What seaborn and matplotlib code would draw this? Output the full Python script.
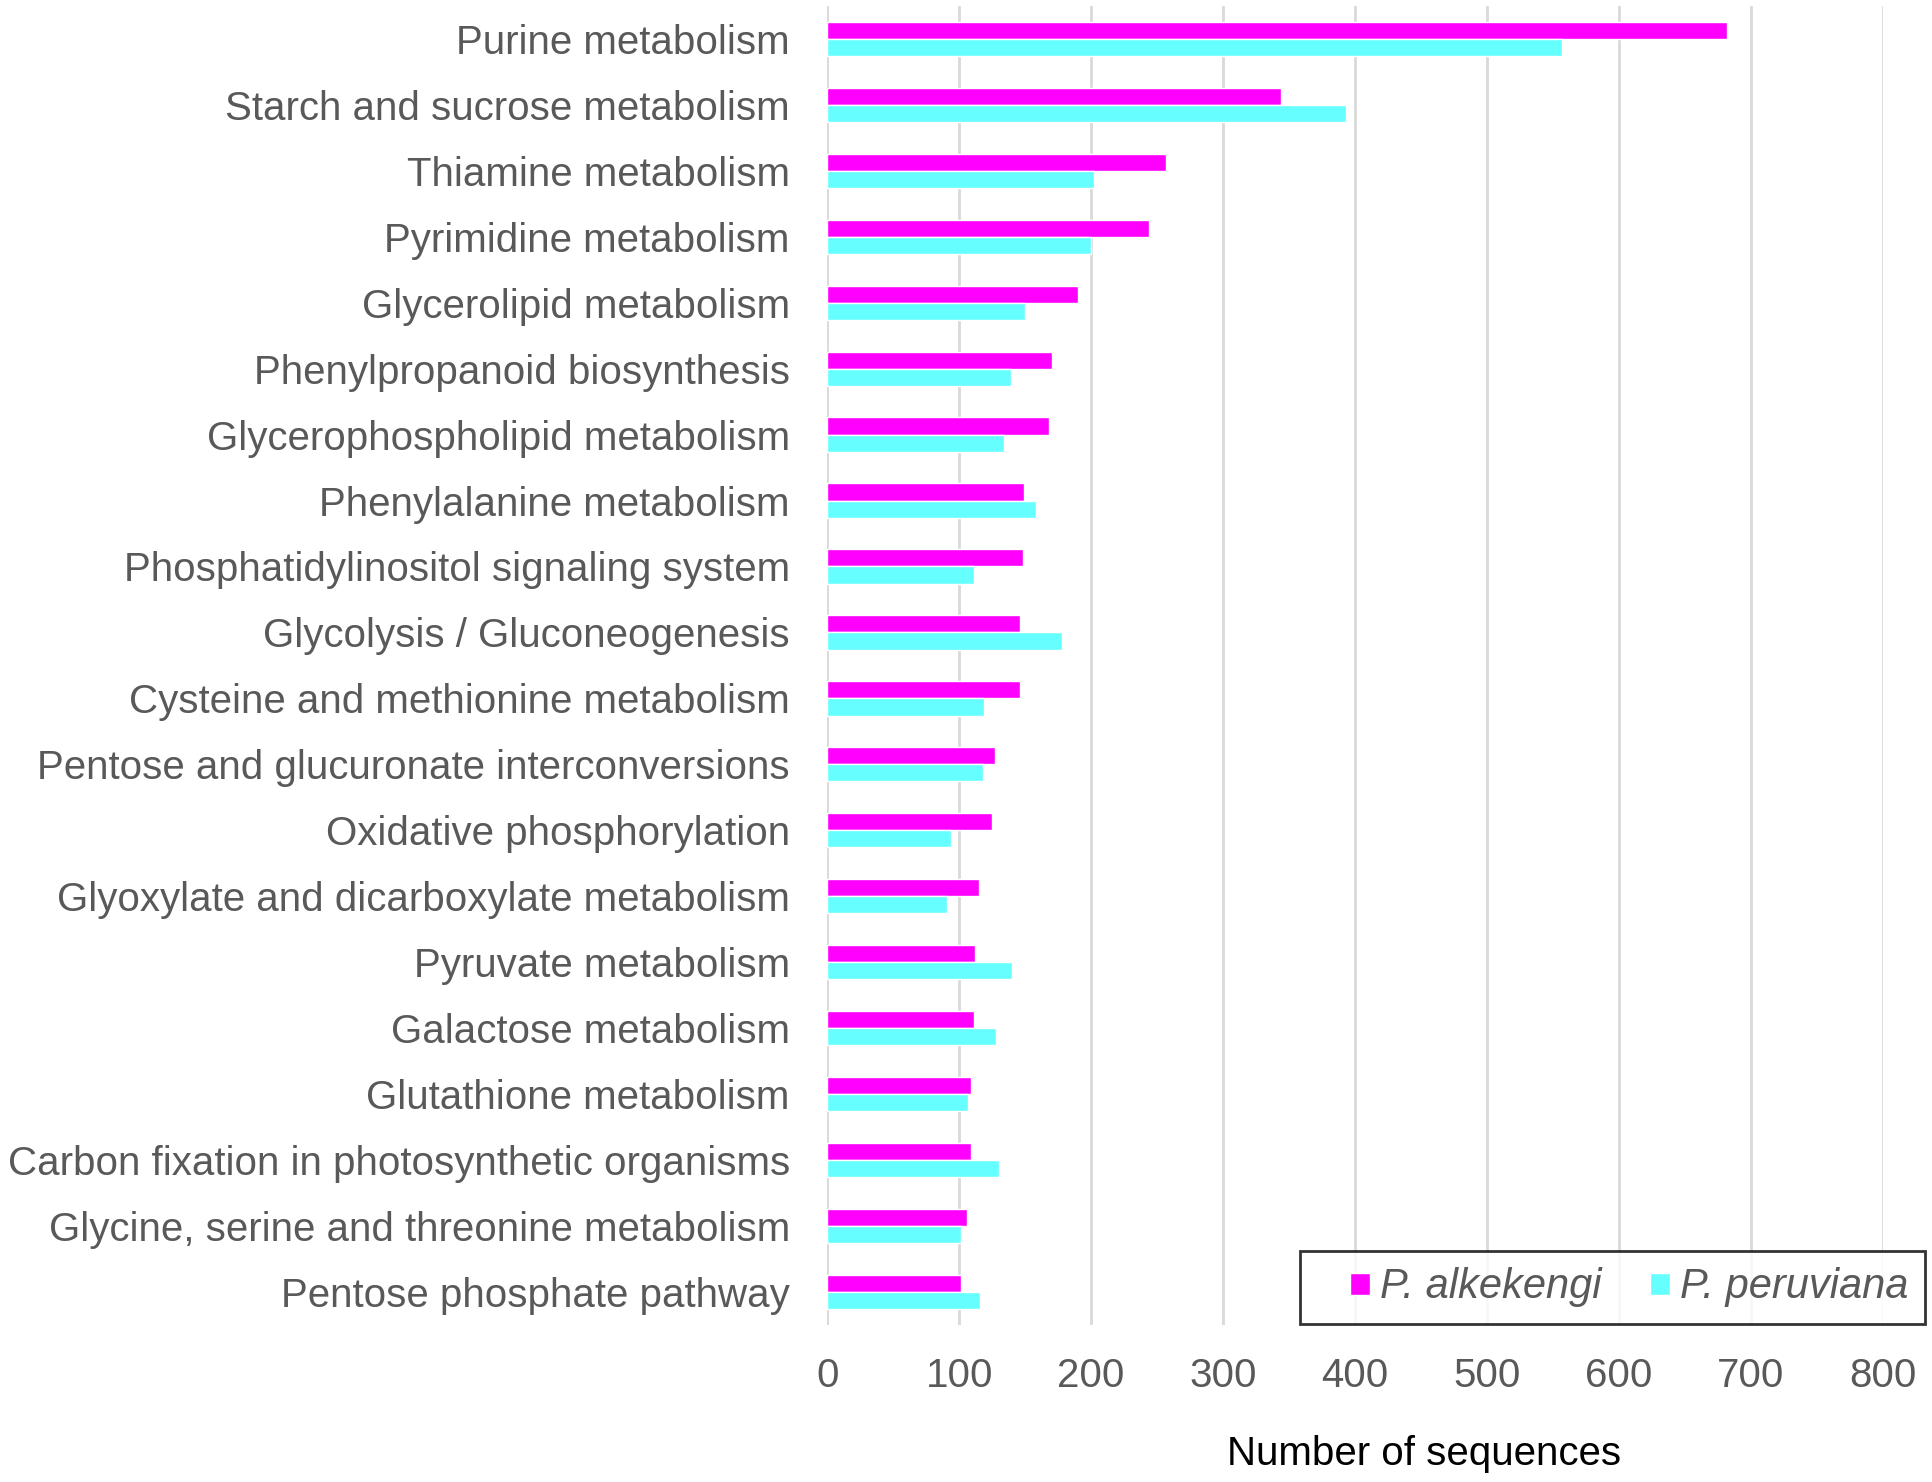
import pandas as pd
import matplotlib
matplotlib.use("Agg")
import matplotlib.pyplot as plt
import matplotlib.patches as mpatches
from matplotlib.legend_handler import HandlerPatch
import seaborn as sns

# KEGG pathways, top to bottom
pathways = [
    "Purine metabolism",
    "Starch and sucrose metabolism",
    "Thiamine metabolism",
    "Pyrimidine metabolism",
    "Glycerolipid metabolism",
    "Phenylpropanoid biosynthesis",
    "Glycerophospholipid metabolism",
    "Phenylalanine metabolism",
    "Phosphatidylinositol signaling system",
    "Glycolysis / Gluconeogenesis",
    "Cysteine and methionine metabolism",
    "Pentose and glucuronate interconversions",
    "Oxidative phosphorylation",
    "Glyoxylate and dicarboxylate metabolism",
    "Pyruvate metabolism",
    "Galactose metabolism",
    "Glutathione metabolism",
    "Carbon fixation in photosynthetic organisms",
    "Glycine, serine and threonine metabolism",
    "Pentose phosphate pathway",
]
alkekengi = [682, 344, 257, 244, 190, 170, 168, 149, 148, 146,
             146, 127, 125, 115, 112, 111, 109, 109, 106, 101]
peruviana = [557, 393, 202, 200, 150, 139, 134, 158, 111, 178,
             119, 118, 94, 91, 140, 128, 107, 130, 101, 116]
species = ["P. alkekengi", "P. peruviana"]

df = pd.DataFrame({
    "Pathway": pathways * 2,
    "Count": alkekengi + peruviana,
    "Species": [species[0]] * len(pathways) + [species[1]] * len(pathways),
})

sns.set_theme(style="white")
plt.rcParams["font.family"] = ["Liberation Sans", "DejaVu Sans"]

fig = plt.figure(figsize=(19.33, 14.82), dpi=100)
ax = fig.add_axes([0.428, 0.106, 0.546, 0.89])

sns.barplot(data=df, y="Pathway", x="Count", hue="Species",
            palette=["#FF00FF", "#66FFFF"], width=0.52, orient="h",
            saturation=1, ax=ax)

ax.set_xlim(0, 800)
ax.set_ylim(19.5, -0.5)
ax.set_xticks(range(0, 801, 100))
ax.xaxis.grid(True, color="#d9d9d9", linewidth=2)
ax.set_axisbelow(True)
for s in ax.spines.values():
    s.set_visible(False)
ax.tick_params(axis="y", length=0, pad=27, labelsize=29, labelcolor="#595959")
ax.tick_params(axis="x", length=0, pad=23, labelsize=29, labelcolor="#595959")
ax.set_ylabel("")
ax.set_xlabel("Number of sequences", fontsize=29, color="black", labelpad=29)
ax.xaxis.label.set_x(0.565)


# small square legend keys sitting at the right end of the handle box
def small_square(legend, orig_handle, xdescent, ydescent, width, height, fontsize):
    w = 0.47 * fontsize
    h = 0.52 * fontsize
    return mpatches.Rectangle((-xdescent + width - w, -ydescent + (height - h) / 2), w, h)


handles, labels = ax.get_legend_handles_labels()
ax.get_legend().remove()
leg = fig.legend(handles, labels, loc="upper right",
                 bbox_to_anchor=(0.996, 0.156), ncol=2, frameon=True,
                 fancybox=False, edgecolor="black", fontsize=30,
                 handlelength=1.28, handleheight=0.7, handletextpad=0.25,
                 columnspacing=0.35, borderpad=0.4, borderaxespad=0,
                 handler_map={mpatches.Rectangle: HandlerPatch(patch_func=small_square)})
leg.get_frame().set_linewidth(2)
for t in leg.get_texts():
    t.set_fontstyle("italic")
    t.set_color("#595959")

fig.savefig("out.png", dpi=100, facecolor="white")
